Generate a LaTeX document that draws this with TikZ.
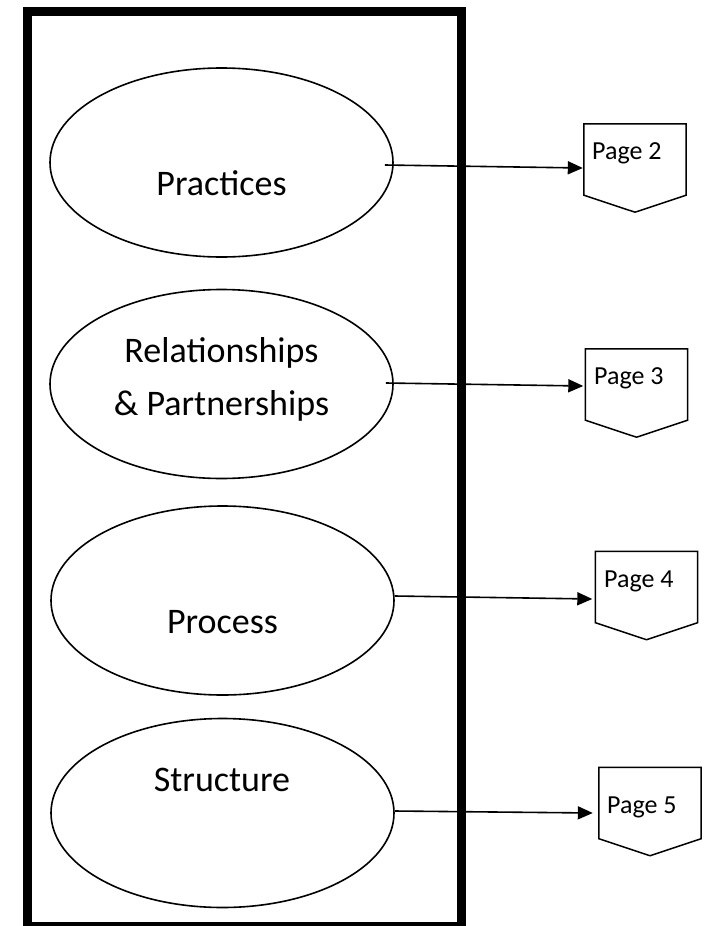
\documentclass[tikz,border=0pt]{standalone}
\usepackage{fontspec}
\setmainfont{Carlito}
\usetikzlibrary{arrows.meta,calc,shapes.geometric}
\begin{document}
\begin{tikzpicture}[x=1pt,y=1pt,
  oval/.style={draw=black,line width=1.6pt,ellipse,minimum width=343pt,minimum height=189pt,inner sep=0pt},
  bigtext/.style={inner sep=0pt,anchor=base,font=\fontsize{36}{43}\selectfont},
  pagebox/.style={rectangle,minimum width=102pt,minimum height=71pt,inner sep=0pt},
  pagetext/.style={inner sep=0pt,anchor=base west,font=\fontsize{26}{31}\selectfont},
  conn/.style={line width=1.6pt,-{Triangle[length=15pt,width=13pt]}},
  frame/.style={line width=9pt}]
\useasboundingbox (0,0) rectangle (704,-926);
% outer frame
\draw[frame] (27.5,-11) rectangle (461.5,-926.5);
% ellipses
\node[oval] (e1) at (221.5,-162.5) {};
\node[oval] (e2) at (221.5,-384) {};
\node[oval] (e3) at (222.5,-600.5) {};
\node[oval] (e4) at (222.5,-813) {};
% ellipse texts
\node[bigtext] (t1) at (221.5,-195) {Practices};
\node[bigtext] (t2a) at (221.5,-362) {Relationships};
\node[bigtext] (t2b) at (221.5,-415) {\& Partnerships};
\node[bigtext] (t3) at (222.5,-633) {Process};
\node[bigtext] (t4) at (222,-791) {Structure};
% page boxes
\node[pagebox] (p2) at (635,-159.5) {};
\node[pagebox] (p3) at (636.5,-384.5) {};
\node[pagebox] (p4) at (646.5,-587) {};
\node[pagebox] (p5) at (650,-803) {};
\foreach \p in {p2,p3,p4,p5}{
  \draw[line width=1.5pt,line join=miter] (\p.south west) -- (\p.north west) -- (\p.north east) -- (\p.south east) -- ($(\p.south)+(0,-17)$) -- cycle;
}
\node[pagetext] (l2) at (592,-159) {Page 2};
\node[pagetext] (l3) at (594,-384) {Page 3};
\node[pagetext] (l4) at (604,-587) {Page 4};
\node[pagetext] (l5) at (607,-813) {Page 5};
% connectors
\draw[conn] ([shift={(-9,-2.5)}]e1.east) -- ([shift={(-1,-8.5)}]p2.west);
\draw[conn] ([shift={(-8,1)}]e2.east) -- ([shift={(-2,-1.5)}]p3.west);
\draw[conn] ([shift={(0,4.5)}]e3.east) -- ([shift={(-3,-12)}]p4.west);
\draw[conn] ([shift={(0,2)}]e4.east) -- ([shift={(-6,-10)}]p5.west);
\end{tikzpicture}
\end{document}
